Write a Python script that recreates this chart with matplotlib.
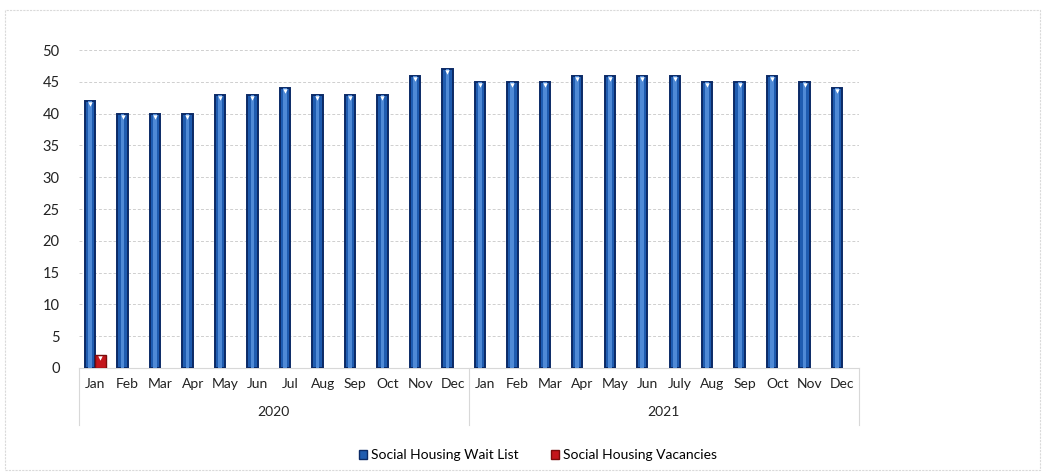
import matplotlib.pyplot as plt
import matplotlib.transforms as mtransforms
from matplotlib.patches import Rectangle
import numpy as np

months = ['Jan', 'Feb', 'Mar', 'Apr', 'May', 'Jun', 'Jul', 'Aug', 'Sep', 'Oct', 'Nov', 'Dec',
          'Jan', 'Feb', 'Mar', 'Apr', 'May', 'Jun', 'July', 'Aug', 'Sep', 'Oct', 'Nov', 'Dec']
years = ['2020', '2021']
wait_list = [42, 40, 40, 40, 43, 43, 44, 43, 43, 43, 46, 47,
             45, 45, 45, 46, 46, 46, 46, 45, 45, 46, 45, 44]
vacancies = [2, 0, 0, 0, 0, 0, 0, 0, 0, 0, 0, 0,
             0, 0, 0, 0, 0, 0, 0, 0, 0, 0, 0, 0]

plt.rcParams['font.family'] = ['Lato', 'DejaVu Sans']

fig = plt.figure(figsize=(10.45, 4.73), dpi=100)
ax = fig.add_axes([0.0756, 0.222, 0.746, 0.672])

# faint frame round the whole chart
fig.patches.append(Rectangle((0.005, 0.006), 0.99, 0.972, transform=fig.transFigure,
                             fill=False, edgecolor='#dadada', linewidth=0.8, linestyle=(0, (2, 1))))

x = np.arange(len(months))
w = 0.32
blue = '#1f5cb0'
red = '#c4161c'

ax.bar(x - w / 2, wait_list, w, color=blue, edgecolor='#0b2a66', linewidth=1.4, zorder=3)
# empty months get no outline
vac_lw = [1.0 if v > 0 else 0 for v in vacancies]
ax.bar(x + w / 2, vacancies, w, color=red, edgecolor='#7a0c0c', linewidth=vac_lw, zorder=3)
# lighter stripe down the middle of each bar
ax.bar(x - w / 2, wait_list, w * 0.35, color='#4f8ad6', linewidth=0, zorder=4)

# small white caps on top of the bars
ax.scatter(x - w / 2, np.array(wait_list) - 0.5, marker='v', s=10, color='white', zorder=5, linewidths=0)
vx = [xi + w / 2 for xi, v in zip(x, vacancies) if v > 0]
vy = [v - 0.5 for v in vacancies if v > 0]
ax.scatter(vx, vy, marker='v', s=10, color='white', zorder=5, linewidths=0)

ax.set_xlim(-0.5, len(months) - 0.5)
ax.set_ylim(0, 50)
ax.set_yticks(range(0, 51, 5))
ax.yaxis.grid(True, color='#cfcfcf', linestyle=(0, (3, 2)), linewidth=0.7)
ax.set_axisbelow(True)
ax.tick_params(axis='y', length=0, labelsize=10.5, colors='#222222', pad=14)
ax.set_xticks([])
for s in ['top', 'right', 'left']:
    ax.spines[s].set_visible(False)
ax.spines['bottom'].set_color('#d8d8d8')
ax.spines['bottom'].set_linewidth(0.8)

# two-level category axis: months then years
trans = mtransforms.blended_transform_factory(ax.transData, ax.transAxes)
for xi, m in zip(x, months):
    ax.text(xi, -0.05, m, transform=trans, ha='center', va='center', fontsize=10, color='#222222')
for i, yr in enumerate(years):
    ax.text(i * 12 + 5.5, -0.14, yr, transform=trans, ha='center', va='center', fontsize=10, color='#222222')
for b in [-0.5, 11.5, 23.5]:
    ax.plot([b, b], [0, -0.18], transform=trans, color='#d8d8d8', linewidth=0.8, clip_on=False)

handles = [Rectangle((0, 0), 1, 1, facecolor=blue, edgecolor='#0b2a66'),
           Rectangle((0, 0), 1, 1, facecolor=red, edgecolor='#7a0c0c')]
fig.legend(handles, ['Social Housing Wait List', 'Social Housing Vacancies'],
           loc='center', bbox_to_anchor=(0.515, 0.038), ncol=2, frameon=False,
           fontsize=10, handlelength=0.6, handleheight=0.6, handletextpad=0.3, columnspacing=2.3)

fig.savefig('out.png', dpi=100)
